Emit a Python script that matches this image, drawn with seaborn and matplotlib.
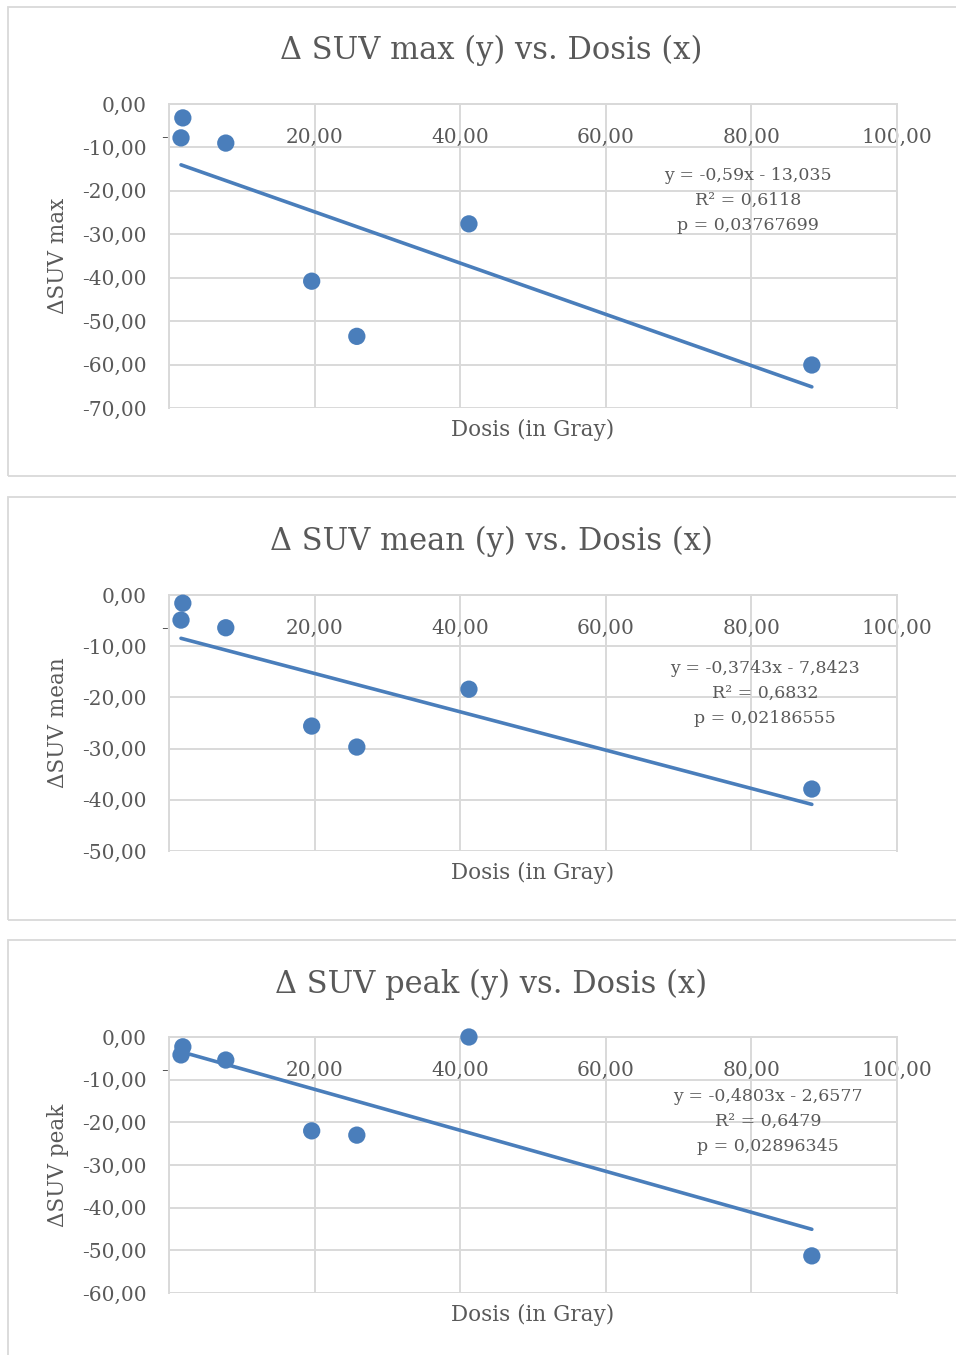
import numpy as np
import pandas as pd
import matplotlib
matplotlib.use("Agg")
import matplotlib.pyplot as plt
import seaborn as sns
from matplotlib.ticker import FuncFormatter, MultipleLocator
from matplotlib.patches import Rectangle

# ---------------- data ----------------
dose = [1.9, 1.65, 7.8, 19.6, 25.8, 41.2, 88.3]
delta_suv_max = [-3.2, -7.8, -9.0, -40.8, -53.5, -27.6, -60.1]
delta_suv_mean = [-1.6, -4.9, -6.4, -25.6, -29.7, -18.4, -37.9]
delta_suv_peak = [-2.3, -4.2, -5.4, -22.0, -23.0, 0.0, -51.3]

titles = ["\u0394 SUV max (y) vs. Dosis (x)",
          "\u0394 SUV mean (y) vs. Dosis (x)",
          "\u0394 SUV peak (y) vs. Dosis (x)"]
ylabels = ["\u0394SUV max", "\u0394SUV mean", "\u0394SUV peak"]
xlabel = "Dosis (in Gray)"
slopes = [-0.59, -0.3743, -0.4803]
intercepts = [-13.035, -7.8423, -2.6577]
eq_texts = ["y = -0,59x - 13,035\nR\u00b2 = 0,6118\np = 0,03767699",
            "y = -0,3743x - 7,8423\nR\u00b2 = 0,6832\np = 0,02186555",
            "y = -0,4803x - 2,6577\nR\u00b2 = 0,6479\np = 0,02896345"]
ymins = [-70, -50, -60]

# ---------------- style ----------------
sns.set_theme(style="whitegrid")
plt.rcParams['font.family'] = ['DejaVu Serif', 'DejaVu Sans']

TXT = "#595959"
GRID = "#d9d9d9"
BLUE = "#4a7ebb"

W, H = 956, 1355
fig = plt.figure(figsize=(W / 100, H / 100), dpi=100)


def fx(px):
    return px / W


def fy(py):
    return 1 - py / H


# layout in pixels: (box_top, box_bottom, plot_top, plot_bottom, title_y, eq_center_x, eq_first_line_y)
layout = [
    (7, 476, 104, 408, 50, 748, 174),
    (497, 920, 595, 851, 541, 765, 667),
    (940, 1420, 1037, 1293, 984, 768, 1095),
]
PL, PR = 169, 897

ys_all = [delta_suv_max, delta_suv_mean, delta_suv_peak]

for i, (bt, bb, pt, pb, ty, ex, ey) in enumerate(layout):
    # outer chart box
    fig.add_artist(Rectangle((fx(8), fy(bb)), 1.2, (bb - bt) / H,
                             transform=fig.transFigure, fill=False,
                             edgecolor=GRID, lw=1.3, clip_on=False))
    ax = fig.add_axes([fx(PL), fy(pb), (PR - PL) / W, (pb - pt) / H])
    ax.set_facecolor("white")

    df = pd.DataFrame({"dose": dose, "delta": ys_all[i]})
    sns.scatterplot(data=df, x="dose", y="delta", ax=ax, s=155, color=BLUE,
                    edgecolor="none", linewidth=0, zorder=3, clip_on=False)

    xs = np.array([min(dose), max(dose)])
    line_df = pd.DataFrame({"dose": xs, "fit": slopes[i] * xs + intercepts[i]})
    sns.lineplot(data=line_df, x="dose", y="fit", ax=ax, color=BLUE, lw=2.6,
                 zorder=4)

    ax.set_xlim(0, 100)
    ax.set_ylim(ymins[i], 0)
    ax.xaxis.set_major_locator(MultipleLocator(20))
    ax.yaxis.set_major_locator(MultipleLocator(10))
    ax.xaxis.set_major_formatter(FuncFormatter(
        lambda v, p: "- " if abs(v) < 1e-9 else f"{v:.2f}".replace(".", ",")))
    ax.yaxis.set_major_formatter(FuncFormatter(
        lambda v, p: f"{v:.2f}".replace(".", ",").replace("-0,00", "0,00")))

    ax.grid(True, color=GRID, lw=1.4)
    for s in ax.spines.values():
        s.set_color(GRID)
        s.set_linewidth(1.4)
    ax.spines["bottom"].set_position(("data", 0))
    ax.tick_params(axis="both", length=0, colors=TXT, labelsize=14.5)
    ax.tick_params(axis="y", pad=16)
    ax.tick_params(axis="x", pad=17.5)

    ax.set_xlabel(xlabel, color=TXT, fontsize=15.5, va="center")
    ax.xaxis.set_label_coords(0.5, -22 / (pb - pt))
    ax.set_ylabel(ylabels[i], color=TXT, fontsize=15.5, va="center")
    ax.yaxis.set_label_coords((58 - PL) / (PR - PL), 0.5)

    fig.text(fx(491), fy(ty), titles[i], ha="center", va="center",
             fontsize=22, color=TXT)
    ax.text((ex - PL) / (PR - PL), 1 - (ey - pt - 7) / (pb - pt), eq_texts[i],
            transform=ax.transAxes, ha="center", va="top",
            multialignment="center", fontsize=12.5, color=TXT, linespacing=1.6)

fig.savefig("out.png", dpi=100, facecolor="white")
